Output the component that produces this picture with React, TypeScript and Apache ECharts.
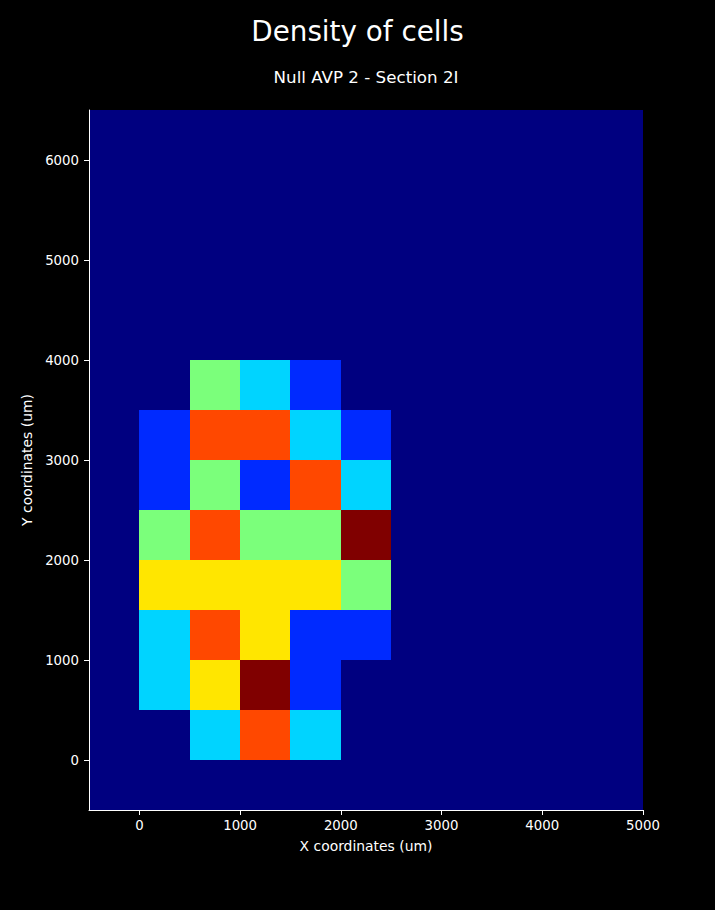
import React, { useEffect, useRef } from "react";
import * as echarts from "echarts";

// Left edges (um) of the 500-um bins that hold cells
const xBinEdges = [0, 500, 1000, 1500, 2000];
const yBinEdges = [0, 500, 1000, 1500, 2000, 2500, 3000, 3500];
const binSize = 500;

// Cell counts, one row per y bin (bottom to top), one column per x bin
const countRows = [
  [0, 2, 5, 2, 0],
  [2, 4, 6, 1, 0],
  [2, 5, 4, 1, 1],
  [4, 4, 4, 4, 3],
  [3, 5, 3, 3, 6],
  [1, 3, 1, 5, 2],
  [1, 5, 5, 2, 1],
  [0, 3, 2, 1, 0],
];

// jet colormap sampled at counts 0..6
const countColors = ["#000080", "#002aff", "#00d4ff", "#7bff7b", "#ffe600", "#ff4800", "#800000"];

const xTicks = [0, 1000, 2000, 3000, 4000, 5000];
const yTicks = [0, 1000, 2000, 3000, 4000, 5000, 6000];
const xRange = [-500, 5000];
const yRange = [-500, 6500];

const FONT = "DejaVu Sans";

export default function App() {
  const ref = useRef<HTMLDivElement>(null);
  useEffect(() => {
    if (!ref.current) return;
    const chart = echarts.init(ref.current, null, { renderer: "svg" });
    const cells: number[][] = [];
    countRows.forEach((row, yi) => {
      row.forEach((v, xi) => {
        if (v > 0) cells.push([xBinEdges[xi], yBinEdges[yi], v]);
      });
    });
    const axisCommon = {
      axisLine: { show: true, onZero: false, lineStyle: { color: "#ffffff", width: 1 } },
      axisTick: { show: true, inside: false, length: 5, lineStyle: { color: "#ffffff", width: 1 } },
      splitLine: { show: false },
      nameTextStyle: { color: "#ffffff", fontFamily: FONT, fontSize: 13.9 },
    };
    const labelCommon = {
      color: "#ffffff",
      fontFamily: FONT,
      fontSize: 13.3,
      formatter: (v: number) => String(v),
    };
    chart.setOption({
      animation: false,
      backgroundColor: "#000000",
      title: [
        {
          text: "Density of cells",
          left: "center",
          top: 12,
          textStyle: { color: "#ffffff", fontFamily: FONT, fontSize: 27.8, fontWeight: "normal" },
        },
        {
          text: "Null AVP 2 - Section 2I",
          left: 361,
          textAlign: "center",
          top: 63,
          textStyle: { color: "#ffffff", fontFamily: FONT, fontSize: 16.7, fontWeight: "normal" },
        },
      ],
      grid: {
        left: 89,
        top: 110,
        width: 554,
        height: 700,
        show: true,
        backgroundColor: countColors[0],
        borderWidth: 0,
      },
      visualMap: {
        show: false,
        type: "piecewise",
        dimension: 2,
        seriesIndex: 0,
        pieces: countColors.map((c, i) => ({ value: i, color: c })),
      },
      xAxis: {
        type: "value",
        min: xRange[0],
        max: xRange[1],
        name: "X coordinates (um)",
        nameLocation: "middle",
        nameGap: 29,
        ...axisCommon,
        axisTick: { ...axisCommon.axisTick, customValues: xTicks },
        axisLabel: { ...labelCommon, customValues: xTicks, margin: 9 },
      },
      yAxis: {
        type: "value",
        min: yRange[0],
        max: yRange[1],
        name: "Y coordinates (um)",
        nameLocation: "middle",
        nameGap: 46,
        ...axisCommon,
        axisTick: { ...axisCommon.axisTick, customValues: yTicks },
        axisLabel: { ...labelCommon, customValues: yTicks, margin: 10 },
      },
      series: [
        {
          type: "custom",
          data: cells,
          encode: { x: 0, y: 1 },
          renderItem: (params: any, api: any) => {
            const x0 = api.value(0);
            const y0 = api.value(1);
            const p0 = api.coord([x0, y0 + binSize]);
            const p1 = api.coord([x0 + binSize, y0]);
            const left = Math.round(p0[0]);
            const top = Math.round(p0[1]);
            return {
              type: "rect",
              shape: {
                x: left,
                y: top,
                width: Math.round(p1[0]) - left,
                height: Math.round(p1[1]) - top,
              },
              style: { fill: api.visual("color"), stroke: null },
            };
          },
        },
      ],
    });
    return () => chart.dispose();
  }, []);
  return (
    <div
      ref={ref}
      style={{ position: "fixed", left: 0, top: 0, width: 715, height: 910, background: "#000" }}
    />
  );
}
